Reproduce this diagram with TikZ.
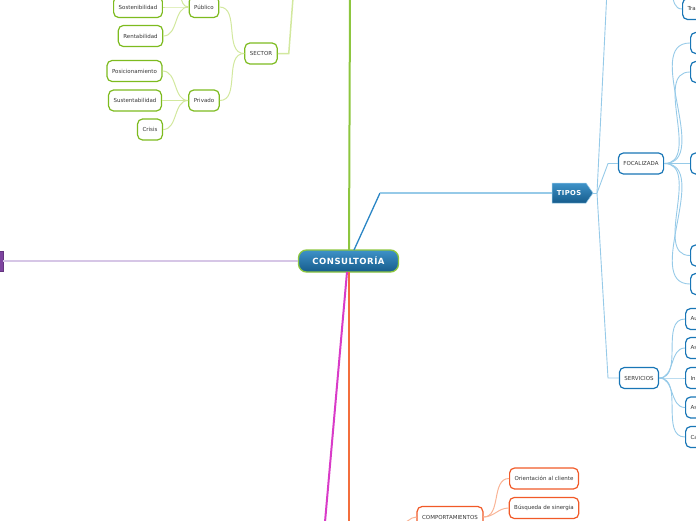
\documentclass[tikz,border=0pt]{standalone}
\usepackage{fontspec}
\setmainfont{DejaVu Sans}
\newfontfamily\rootfont[LetterSpace=6]{DejaVu Sans Bold}
\usetikzlibrary{shapes.symbols}
\definecolor{grn}{RGB}{141,198,63}
\definecolor{grnb}{RGB}{125,187,31}
\definecolor{grnl}{RGB}{210,232,158}
\definecolor{blu}{RGB}{25,118,182}
\definecolor{blum}{RGB}{43,134,197}
\definecolor{blul}{RGB}{150,202,232}
\definecolor{org}{RGB}{241,90,40}
\definecolor{orgm}{RGB}{243,110,60}
\definecolor{orgl}{RGB}{249,180,150}
\definecolor{mag}{RGB}{217,59,200}
\definecolor{pur}{RGB}{126,68,160}
\definecolor{purl}{RGB}{214,198,230}
\definecolor{txt}{RGB}{55,55,55}
\definecolor{rtop}{RGB}{62,146,200}
\definecolor{rbot}{RGB}{22,92,140}
\begin{document}
\begin{tikzpicture}[x=1pt,y=-1pt,
  box/.style={draw, fill=white, rounded corners=5pt, line width=1.2pt, minimum height=21pt, inner xsep=5pt, inner ysep=0pt, font=\fontsize{5.5}{6}\selectfont, text=txt},
  gbox/.style={box, draw=grnb},
  bbox/.style={box, draw=blu},
  obox/.style={box, draw=org},
  cutbox/.style={bbox, anchor=west, text width=30pt, align=left},
  gedge/.style={draw=grnl, line width=1pt},
  bedge/.style={draw=blul, line width=0.9pt},
  oedge/.style={draw=orgl, line width=1pt},
  rootnode/.style={draw=grn, line width=1.3pt, rounded corners=8pt, top color=rtop, bottom color=rbot, minimum width=100pt, minimum height=22pt, inner sep=0pt, text=white, font=\rootfont\fontsize{8.5}{9}\selectfont},
  tiposnode/.style={shape=signal, signal to=east, signal pointer angle=110, draw=blul, line width=0.5pt, top color=rtop, bottom color=rbot, minimum width=41pt, minimum height=20pt, inner sep=0pt, text=white, font=\rootfont\fontsize{6.8}{7}\selectfont}
]
\useasboundingbox (0,0) rectangle (696,520);
\clip (0,0) rectangle (696,520);

% ---------- root ----------
\node[rootnode] (root) at (348.5,261) {CONSULTORÍA};

% ---------- main branches ----------
\coordinate (gtop) at (350,-2);
\coordinate (gstart) at (349,250);
\draw[grn, line width=2pt] (gstart) -- (gtop);

\coordinate (ostart) at (349,272);
\coordinate (obot) at (349,522);
\draw[orgm, line width=2pt] (ostart) -- (obot);

\coordinate (mstart) at (347,272);
\coordinate (mbot) at (325,522);
\draw[mag, line width=2pt] (mstart) -- (mbot);

\node[draw=pur!80!black, fill=pur, minimum width=8pt, minimum height=20pt, inner sep=0pt] (purnode) at (-1,261) {};
\draw[purl, line width=1.5pt] (root.west) -- (purnode.east);

% ---------- green sub-tree ----------
\node[gbox] (sector) at (261,53.5) {SECTOR};
\node[gbox] (publico) at (204,7) {Público};
\node[gbox] (privado) at (204,100.5) {Privado};
\node[gbox] (sosten) at (138,7) {Sostenibilidad};
\node[gbox] (rentab) at (140.5,36) {Rentabilidad};
\node[gbox] (posic) at (134.5,71) {Posicionamiento};
\node[gbox] (susten) at (135,100.5) {Sustentabilidad};
\node[gbox] (crisis) at (150,129.5) {Crisis};
\coordinate (sectop) at (293,-2);
\coordinate (pubup) at (172,-18);

\draw[gedge, line width=1.5pt] (sector.east) -- ++(11,0) -- (sectop);
\draw[gedge] (publico.east) to[out=0,in=180] (sector.west);
\draw[gedge] (privado.east) to[out=0,in=180] (sector.west);
\draw[gedge] (sosten.east) to[out=0,in=180] (publico.west);
\draw[gedge] (rentab.east) to[out=0,in=180] (publico.west);
\draw[gedge] (pubup) to[out=0,in=180] (publico.west);
\draw[gedge] (posic.east) to[out=0,in=180] (privado.west);
\draw[gedge] (susten.east) to[out=0,in=180] (privado.west);
\draw[gedge] (crisis.east) to[out=0,in=180] (privado.west);

% ---------- blue sub-tree ----------
\node[tiposnode] (tipos) at (569,193) {TIPOS};
\coordinate (bstart) at (354,250);
\coordinate (bcorner) at (380,0);
\draw[blum, line width=1.3pt] (bstart) -- (tipos.west -| bcorner);
\draw[bedge, line width=1.1pt] (tipos.west -| bcorner) -- (tipos.west);

\node[bbox] (foc) at (641,163.5) {FOCALIZADA};
\node[bbox] (serv) at (639,378) {SERVICIOS};
\coordinate (hub) at (597,193);
\coordinate (t1) at (608,-30);
\draw[bedge] (tipos.east) -- (hub);
\draw[bedge] (hub) -- (t1);
\draw[bedge] (hub) -- (foc.west -| t1) -- (foc.west);
\draw[bedge] (hub) -- (serv.west -| t1) -- (serv.west);

\node[cutbox] (tra) at (682,9) {Tra};
\coordinate (trapar) at (662,-22);
\draw[bedge] (trapar) to[out=0,in=180] (tra.west);

\node[cutbox] (f1) at (690,43) {};
\node[cutbox] (f2) at (690,72) {};
\node[cutbox] (f3) at (690,163.5) {};
\node[cutbox] (f4) at (690,255.5) {};
\node[cutbox] (f5) at (690,284) {};
\foreach \n in {f1,f2,f3,f4,f5}
  \draw[bedge] (foc.east) to[out=0,in=180] (\n.west);

\node[cutbox] (s1) at (685,319) {Au};
\node[cutbox] (s2) at (685,348) {As};
\node[cutbox] (s3) at (685,378) {In};
\node[cutbox] (s4) at (685,407.5) {As};
\node[cutbox] (s5) at (685,437) {Ca};
\foreach \n in {s1,s2,s3,s4,s5}
  \draw[bedge] (serv.east) to[out=0,in=180] (\n.west);

% ---------- orange sub-tree ----------
\node[obox] (comp) at (450,517) {COMPORTAMIENTOS};
\node[obox] (orient) at (544,478.5) {Orientación al cliente};
\node[obox] (busq) at (544,508) {Búsqueda de sinergia};
\coordinate (compin) at (400,524);
\draw[oedge] (compin) to[out=0,in=180] (comp.west);
\draw[oedge] (comp.east) to[out=0,in=180] (orient.west);
\draw[oedge] (comp.east) to[out=0,in=180] (busq.west);
\end{tikzpicture}
\end{document}
